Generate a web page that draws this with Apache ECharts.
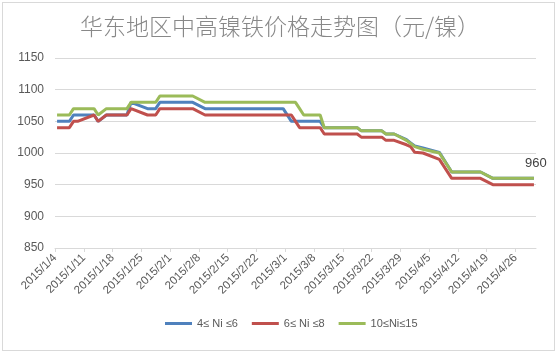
<!DOCTYPE html>
<html>
<head>
<meta charset="utf-8">
<script src="https://cdn.jsdelivr.net/npm/echarts@6/dist/echarts.min.js"></script>
<style>
  html, body { margin: 0; padding: 0; background: #fff; }
  #wrap { position: relative; width: 558px; height: 353px; }
  #chart { width: 558px; height: 353px; }
  #frame {
    position: absolute; left: 2px; top: 2px; width: 551px; height: 347px;
    border: 1px solid #d9d9d9; pointer-events: none;
  }
</style>
</head>
<body>
<div id="wrap">
  <div id="chart"></div>
  <div id="frame"></div>
</div>
<script>
// dates where at least one series changes direction
const dates = [
  "2015-01-04", "2015-01-07", "2015-01-08", "2015-01-09", "2015-01-13", "2015-01-14",
  "2015-01-16", "2015-01-21", "2015-01-22", "2015-01-26", "2015-01-28", "2015-01-29",
  "2015-02-06", "2015-02-09", "2015-02-28", "2015-03-02", "2015-03-03", "2015-03-04",
  "2015-03-05", "2015-03-09", "2015-03-10", "2015-03-18", "2015-03-19", "2015-03-24",
  "2015-03-25", "2015-03-27", "2015-03-30", "2015-03-31", "2015-04-01", "2015-04-03",
  "2015-04-07", "2015-04-10", "2015-04-17", "2015-04-20", "2015-04-30",
];

const ni4to6 = [
  1050, 1050, 1060, 1060, 1060, 1050,
  1060, 1060, 1080, 1070, 1070, 1080,
  1080, 1070, 1070, 1050, 1050, 1050,
  1050, 1050, 1040, 1040, 1035, 1035,
  1030, 1030, 1021, 1016, 1011, 1008,
  1001, 970, 970, 960, 960,
];

const ni6to8 = [
  1040, 1040, 1050, 1050, 1060, 1050,
  1060, 1060, 1070, 1060, 1060, 1070,
  1070, 1060, 1060, 1060, 1050, 1040,
  1040, 1040, 1030, 1030, 1025, 1025,
  1020, 1020, 1013, 1010, 1001, 1000,
  990, 960, 960, 950, 950,
];

const ni10to15 = [
  1060, 1060, 1070, 1070, 1070, 1060,
  1070, 1070, 1080, 1080, 1080, 1090,
  1090, 1080, 1080, 1080, 1080, 1070,
  1060, 1060, 1040, 1040, 1035, 1035,
  1030, 1030, 1020, 1015, 1010, 1006,
  1000, 970, 970, 960, 960,
];

const seriesNames = ["4≤ Ni ≤6", "6≤ Ni ≤8", "10≤Ni≤15"];
const colors = ["#4F81BD", "#C0504D", "#9BBB59"];

const start = Date.UTC(2015, 0, 4);
const dayMs = 86400000;

// x = days since 2015/1/4, points sit mid-day like Excel's date axis
const dayX = (s) => {
  const p = s.split("-").map(Number);
  return (Date.UTC(p[0], p[1] - 1, p[2]) - start) / dayMs + 0.5;
};

const toPoints = (vals) => vals.map((v, i) => [dayX(dates[i]), v]);

const fmtDate = (v) => {
  const d = new Date(start + v * dayMs);
  return d.getUTCFullYear() + "/" + (d.getUTCMonth() + 1) + "/" + d.getUTCDate();
};

const chart = echarts.init(document.getElementById("chart"));

const lineSeries = (name, vals, color) => ({
  name: name,
  type: "line",
  symbol: "none",
  lineStyle: { color: color, width: 3 },
  itemStyle: { color: color },
  data: toPoints(vals),
  animation: false,
});

const last = ni10to15.length - 1;
const greenSeries = lineSeries(seriesNames[2], ni10to15, colors[2]);
// data label on the last point of the top line
greenSeries.markPoint = {
  symbol: "circle",
  symbolSize: 1,
  itemStyle: { color: "rgba(0,0,0,0)" },
  label: {
    show: true,
    position: "top",
    distance: 8,
    offset: [2, 0],
    color: "#404040",
    fontSize: 13,
    fontFamily: "Liberation Sans",
  },
  data: [{ coord: [dayX(dates[last]), ni10to15[last]], value: ni10to15[last] }],
};

chart.setOption({
  title: {
    text: "华东地区中高镍铁价格走势图（元/镍）",
    left: 275,
    textAlign: "center",
    top: 10,
    textStyle: {
      fontFamily: "Noto Sans CJK SC",
      fontWeight: 300,
      fontSize: 23,
      color: "#888888",
    },
  },
  legend: {
    bottom: 19,
    left: 160,
    icon: "rect",
    itemWidth: 27,
    itemHeight: 3,
    itemGap: 14,
    data: seriesNames,
    textStyle: { color: "#595959", fontSize: 11, fontFamily: "Liberation Sans" },
  },
  grid: { left: 55, right: 22, top: 58, bottom: 105 },
  xAxis: {
    type: "value",
    min: 0,
    max: 117,
    interval: 7,
    axisLine: { lineStyle: { color: "#d9d9d9" } },
    axisTick: { show: true, length: 4, lineStyle: { color: "#d9d9d9" } },
    splitLine: { show: false },
    axisLabel: {
      rotate: 45,
      color: "#595959",
      fontSize: 11.5,
      fontFamily: "Liberation Sans",
      margin: 8,
      showMaxLabel: false,
      formatter: fmtDate,
    },
  },
  yAxis: {
    type: "value",
    min: 850,
    max: 1150,
    interval: 50,
    axisLine: { show: false },
    axisTick: { show: false },
    splitLine: { lineStyle: { color: "#d9d9d9" } },
    axisLabel: {
      color: "#595959",
      fontSize: 12,
      fontFamily: "Liberation Sans",
      margin: 11,
      formatter: (v) => String(v),
    },
  },
  series: [
    lineSeries(seriesNames[0], ni4to6, colors[0]),
    lineSeries(seriesNames[1], ni6to8, colors[1]),
    greenSeries,
  ],
});
</script>
</body>
</html>
